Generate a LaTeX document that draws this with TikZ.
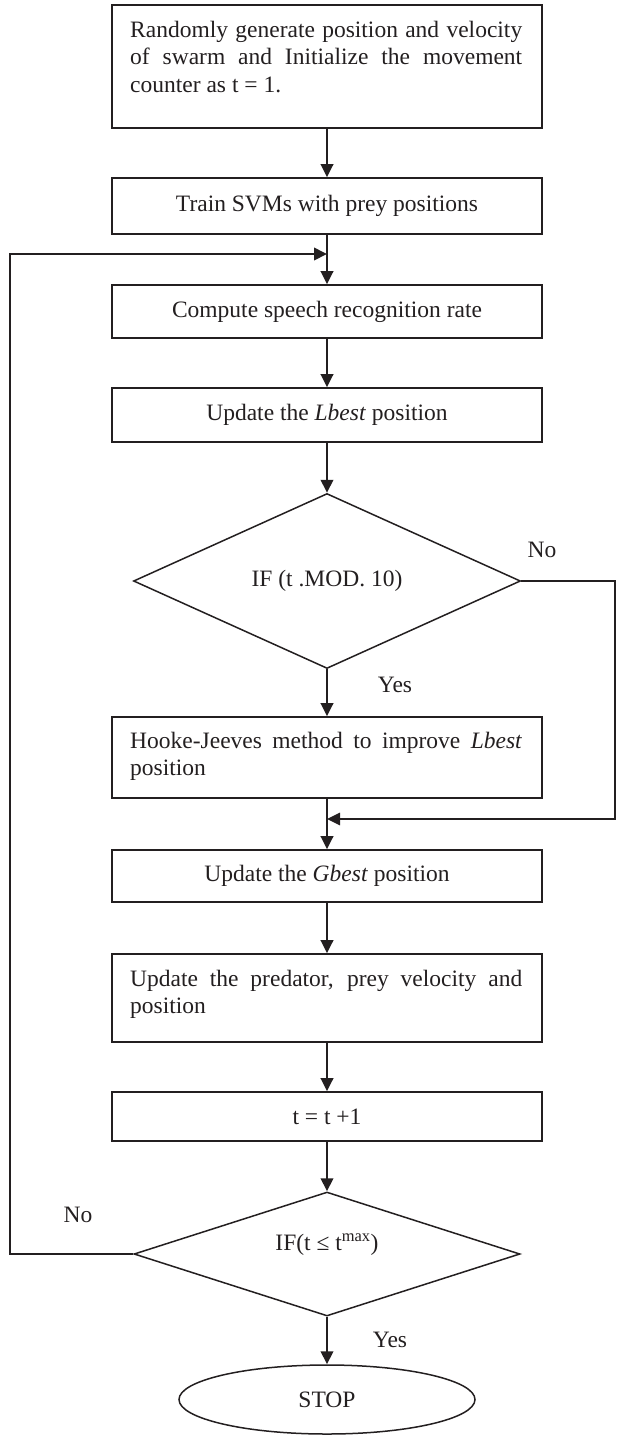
\documentclass[tikz,border=0pt]{standalone}
\usepackage{fontspec}
\setmainfont{Liberation Serif}
\usetikzlibrary{shapes.geometric,arrows.meta}
\definecolor{ink}{HTML}{231F20}
\hbadness=10000
\tolerance=10000
\begin{document}
\begin{tikzpicture}[x=1pt,y=-1pt,
  every node/.style={font=\fontsize{23.5}{27.5}\selectfont, text=ink},
  box/.style={draw=ink, line width=1.6pt, rectangle, minimum width=430pt, minimum height=#1, inner sep=0pt},
  box/.default=55pt,
  txt/.style={anchor=base west, inner sep=0pt, text width=392pt, align=justify},
  dia/.style={diamond, draw=ink, line width=1.5pt, inner sep=0pt},
  arr/.style={draw=ink, line width=2pt, -{Triangle[length=13pt,width=12.5pt]}}
]
\useasboundingbox (0,0) rectangle (616,1435);

% boxes
\node[box=123pt] (b1) at (327,66.5) {};
\node[txt] (t1) at (130,37.3) {Randomly generate position and velocity\linebreak of swarm and Initialize the movement\linebreak counter as t = 1.};
\node[box=56pt] (b2) at (327,206) {Train SVMs with prey positions};
\node[box=53pt] (b3) at (327,311.5) {Compute speech recognition rate};
\node[box=54pt] (b4) at (327,415) {Update the \textit{Lbest} position};
\node[dia, minimum width=387pt, minimum height=175pt] (d1) at (327,581) {IF (t .MOD. 10)};
\node[box=81pt] (b5) at (327,757.5) {};
\node[txt] (t5) at (130,748.3) {Hooke-Jeeves method to improve \textit{Lbest}\linebreak position};
\node[box=52pt] (b6) at (327,876) {Update the \textit{Gbest} position};
\node[box=88pt] (b7) at (327,998) {};
\node[txt] (t7) at (130,986) {Update the predator, prey velocity and\linebreak position};
\node[box=49pt] (b8) at (327,1116.5) {t = t +1};
\node[dia, minimum width=386pt, minimum height=124pt] (d2) at (327,1254) {};
\node[anchor=base, inner sep=0pt] (t2) at (327,1250.5) {IF(t ≤ t\textsuperscript{max})};
\node[ellipse, draw=ink, line width=1.5pt, minimum width=296pt, minimum height=69pt, inner sep=0pt] (e) at (327,1399.5) {STOP};

% labels
\node (no1) at (542,549.5) {No};
\node (yes1) at (395,684.5) {Yes};
\node (no2) at (78,1215) {No};
\node (yes2) at (390,1339.5) {Yes};

% helper coordinates
\coordinate (xl) at (10,0);
\coordinate (xr) at (615,0);
\coordinate (j1) at (327,254);
\coordinate (j2) at (327,819);

% connectors
\draw[arr] (b1.south) -- (b2.north);
\draw[arr] (b2.south) -- (b3.north);
\draw[arr] (b3.south) -- (b4.north);
\draw[arr] (b4.south) -- (d1.north);
\draw[arr] (d1.south) -- (b5.north);
\draw[arr] (b5.south) -- (b6.north);
\draw[arr] (b6.south) -- (b7.north);
\draw[arr] (b7.south) -- (b8.north);
\draw[arr] (b8.south) -- (d2.north);
\draw[arr] (d2.south) -- (e.north);
\draw[arr] (d2.west) -- (d2.west -| xl) |- (j1);
\draw[arr, line width=1.7pt] (d1.east) -- (d1.east -| xr) |- (j2);
\end{tikzpicture}
\end{document}
